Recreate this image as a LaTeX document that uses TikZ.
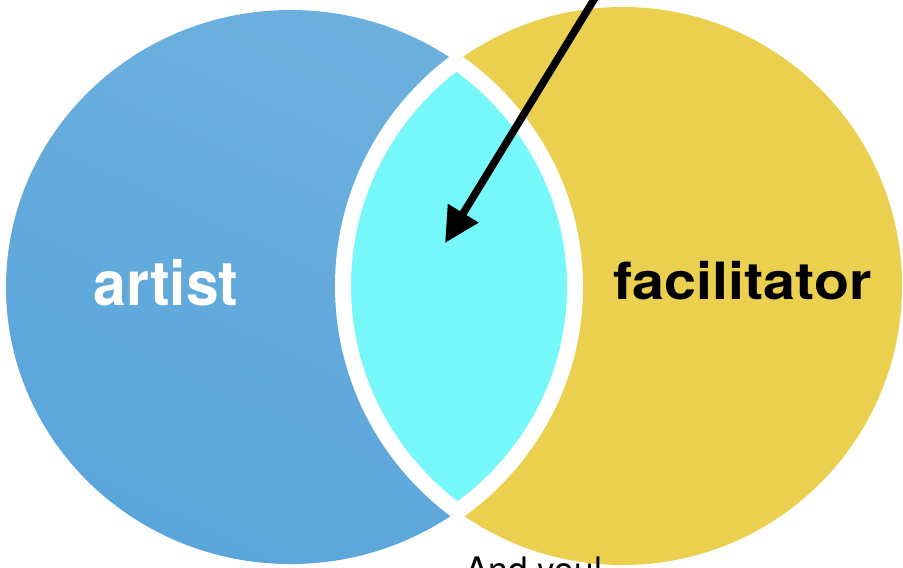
\documentclass[tikz,border=0pt]{standalone}
\usepackage{fontspec}
\setmainfont{TeX Gyre Heros}
\usepackage{tikz}
\usetikzlibrary{arrows.meta,positioning}

\definecolor{artisttop}{HTML}{6DB0DE}
\definecolor{artistmid}{HTML}{98C9EA}
\definecolor{artistbot}{HTML}{5AA5DA}
\definecolor{facilyellow}{HTML}{EBCF4E}
\definecolor{lenscyan}{HTML}{76F7FA}

\begin{document}
\begin{tikzpicture}[x=0.1mm, y=-0.1mm,
        gap/.style={draw=white, line width=1.6mm},
        circlename/.style={inner sep=0pt, anchor=base, font=\bfseries\fontsize{#1}{#1}\selectfont}]
        \useasboundingbox (0,0) rectangle (903,567);
        \clip (0,0) rectangle (903,567);
        \def\artistcirc{(290.5,287) ellipse [x radius=284.5, y radius=277]}
        \def\facilcirc{(622.5,286) ellipse [x radius=279.5, y radius=279]}

        \shade[top color=artisttop, middle color=artistmid, bottom color=artistbot, shading angle=-25] \artistcirc;
        \fill[facilyellow] \facilcirc;
        \begin{scope}
            \clip \artistcirc;
            \fill[lenscyan] \facilcirc;
            \draw[gap] \facilcirc;
        \end{scope}
        \begin{scope}
            \clip \facilcirc;
            \draw[gap] \artistcirc;
        \end{scope}

        \node (artist) [circlename=17.6, text=white] at (166,305) {\scalebox{0.95}[1]{artist}};
        \node (facil) [circlename=14.6, text=black] at (742.5,299) {\scalebox{1.12}[1]{facilitator}};
        \node (andyou) [anchor=base, inner sep=0pt, font=\fontsize{10}{12}\selectfont] at (534.5,582.6) {And you!};

        \coordinate (arrowstart) at (601,-12);
        \coordinate (arrowtip) at (445,243);
        \draw[-{Triangle[length=3.5mm, width=3.4mm]}, line width=0.75mm] (arrowstart) -- (arrowtip);
    \end{tikzpicture}
\end{document}
